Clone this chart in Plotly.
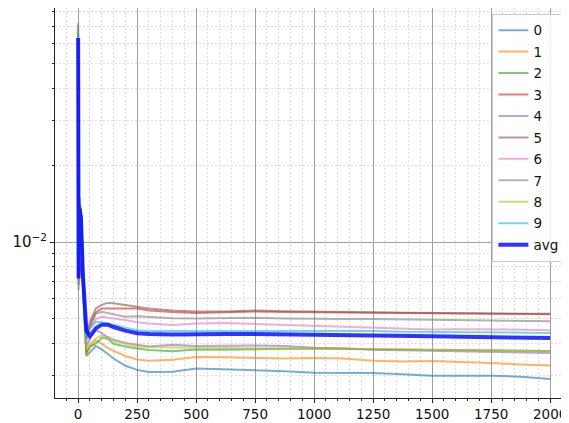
import plotly.graph_objects as go

steps = [0, 2, 6, 12, 20, 35, 50, 75, 100, 125, 150, 200, 250, 300, 400, 500, 625, 750, 875,
         1000, 1125, 1250, 1375, 1500, 1625, 1750, 1875, 2000]

s0 = [0.055, 0.0068, 0.012, 0.011, 0.0066, 0.00358, 0.0037, 0.00392, 0.0038, 0.00365, 0.0035, 0.00328,
      0.00316, 0.0031, 0.00311, 0.0032, 0.00318, 0.00315, 0.00312, 0.00308, 0.00308, 0.00307, 0.00304,
      0.0030, 0.0030, 0.0030, 0.00297, 0.00291]
s1 = [0.060, 0.0070, 0.013, 0.012, 0.0068, 0.0036, 0.0039, 0.00412, 0.0040, 0.00385, 0.00375, 0.00358,
      0.00347, 0.00343, 0.00346, 0.00355, 0.00354, 0.00351, 0.0035, 0.00352, 0.0035, 0.00343, 0.00341,
      0.00342, 0.0034, 0.00336, 0.00332, 0.00329]
s2 = [0.072, 0.0075, 0.015, 0.013, 0.0070, 0.0037, 0.0039, 0.0040, 0.00422, 0.00418, 0.0040, 0.0039,
      0.00383, 0.00378, 0.00374, 0.0038, 0.00379, 0.0038, 0.00382, 0.00383, 0.00381, 0.0038, 0.00379,
      0.0038, 0.00379, 0.00378, 0.00376, 0.00375]
s3 = [0.065, 0.0074, 0.014, 0.013, 0.0080, 0.0042, 0.0047, 0.0053, 0.0055, 0.0055, 0.0055, 0.0055,
      0.0055, 0.0054, 0.00532, 0.00528, 0.0053, 0.00535, 0.00533, 0.00532, 0.00533, 0.0053, 0.00528,
      0.00526, 0.00525, 0.00525, 0.00524, 0.00524]
s4 = [0.058, 0.0071, 0.013, 0.012, 0.0072, 0.0039, 0.0042, 0.00452, 0.0044, 0.00425, 0.00415, 0.00403,
      0.00396, 0.0039, 0.00396, 0.00392, 0.00393, 0.00394, 0.00392, 0.00386, 0.00384, 0.00379, 0.00377,
      0.00375, 0.00373, 0.00372, 0.0037, 0.00368]
s5 = [0.062, 0.0073, 0.014, 0.013, 0.0082, 0.0043, 0.0049, 0.0055, 0.00568, 0.00578, 0.00576, 0.00566,
      0.00557, 0.0055, 0.0054, 0.00535, 0.00535, 0.0054, 0.00536, 0.00535, 0.00532, 0.0053, 0.0053,
      0.00528, 0.00526, 0.00525, 0.00523, 0.00522]
s6 = [0.060, 0.0072, 0.0135, 0.0125, 0.0078, 0.0041, 0.0046, 0.0050, 0.0051, 0.00505, 0.00502, 0.00495,
      0.00485, 0.0048, 0.00474, 0.0048, 0.00482, 0.00478, 0.00474, 0.00472, 0.00468, 0.00463, 0.00458,
      0.00455, 0.00456, 0.00456, 0.00454, 0.00452]
s7 = [0.070, 0.0065, 0.014, 0.0135, 0.0080, 0.0042, 0.0047, 0.00525, 0.00533, 0.00528, 0.0052, 0.0051,
      0.00512, 0.00508, 0.00503, 0.00502, 0.00503, 0.00505, 0.00502, 0.0050, 0.0050, 0.0050, 0.00498,
      0.00497, 0.00496, 0.00494, 0.00492, 0.0049]
s8 = [0.064, 0.0072, 0.0135, 0.0125, 0.0072, 0.0038, 0.0040, 0.0042, 0.0043, 0.0042, 0.0041, 0.0040,
      0.0039, 0.00388, 0.00386, 0.00386, 0.00385, 0.00385, 0.00384, 0.00383, 0.00382, 0.0038, 0.00379,
      0.00378, 0.00377, 0.00376, 0.00375, 0.00374]
s9 = [0.066, 0.0073, 0.0135, 0.0125, 0.0076, 0.0042, 0.0046, 0.00487, 0.00485, 0.0048, 0.00475, 0.00462,
      0.00452, 0.00449, 0.00449, 0.0045, 0.0045, 0.00451, 0.00452, 0.00452, 0.0045, 0.00449, 0.00446,
      0.00445, 0.00444, 0.00443, 0.00442, 0.00441]
avg = [0.063, 0.0072, 0.0135, 0.0125, 0.0075, 0.0045, 0.00428, 0.0046, 0.00475, 0.00475, 0.00465, 0.0045,
       0.0044, 0.00437, 0.00435, 0.00437, 0.00437, 0.00437, 0.00436, 0.00435, 0.00434, 0.00432, 0.0043,
       0.00428, 0.00426, 0.00424, 0.00422, 0.00421]

series = [s0, s1, s2, s3, s4, s5, s6, s7, s8, s9]
names = ["0", "1", "2", "3", "4", "5", "6", "7", "8", "9"]
colors = ["#1f77b4", "#ff7f0e", "#2ca02c", "#d62728", "#9467bd",
          "#8c564b", "#e377c2", "#7f7f7f", "#bcbd22", "#17becf"]

x_ticks = [0, 250, 500, 750, 1000, 1250, 1500, 1750, 2000]
y_minor = [0.003, 0.004, 0.005, 0.006, 0.007, 0.008, 0.009,
           0.02, 0.03, 0.04, 0.05, 0.06, 0.07, 0.08]

fig = go.Figure()
for name, vals, col in zip(names, series, colors):
    fig.add_trace(go.Scatter(x=steps, y=vals, mode="lines", name=name, legendgroup=name,
                             line=dict(color=col, width=2), opacity=0.6))
fig.add_trace(go.Scatter(x=steps, y=avg, mode="lines", name="avg", legendgroup="avg",
                         line=dict(color="rgba(0,0,255,0.8)", width=4)))

font = dict(family="DejaVu Sans", size=13, color="#111")
# the page body adds an 8px margin; the figure is sized to fill the rest of the window
fig.update_layout(
    width=561, height=415,
    margin=dict(l=47, r=0, t=0, b=25),
    plot_bgcolor="white", paper_bgcolor="white",
    font=font,
    showlegend=True,
    legend=dict(x=0.851, y=0.985, xanchor="left", yanchor="top",
                bgcolor="rgba(255,255,255,0.85)", bordercolor="#cccccc", borderwidth=1,
                font=dict(family="DejaVu Sans", size=13.5, color="#111"),
                traceorder="grouped", tracegroupgap=0.9),
)
fig.update_xaxes(
    range=[-98, 2080], tickmode="array", tickvals=x_ticks,
    ticks="outside", ticklen=4, tickcolor="#222",
    tickfont=dict(family="DejaVu Sans", size=13.5, color="#111"),
    showline=True, linecolor="#222", linewidth=1, mirror=True,
    showgrid=True, gridcolor="#a0a0a0", gridwidth=1,
    zeroline=False, automargin=False,
    minor=dict(dtick=50, tick0=0, ticks="outside", ticklen=2, tickcolor="#222",
               showgrid=True, gridcolor="#dedede", griddash="2px,2px", gridwidth=1),
)
fig.update_yaxes(
    type="log", range=[-2.6105, -1.0832],
    tickmode="array", tickvals=[0.01], ticktext=["10<sup>\u22122</sup>"],
    ticks="outside", ticklen=4, tickcolor="#222",
    tickfont=dict(family="DejaVu Sans", size=15, color="#111"),
    showline=True, linecolor="#222", linewidth=1,
    showgrid=True, gridcolor="#a0a0a0", gridwidth=1,
    zeroline=False, automargin=False,
    minor=dict(tickmode="array", tickvals=y_minor, ticks="outside", ticklen=2, tickcolor="#222",
               showgrid=True, gridcolor="#dedede", griddash="2px,2px", gridwidth=1),
)

fig.write_html("out.html")
